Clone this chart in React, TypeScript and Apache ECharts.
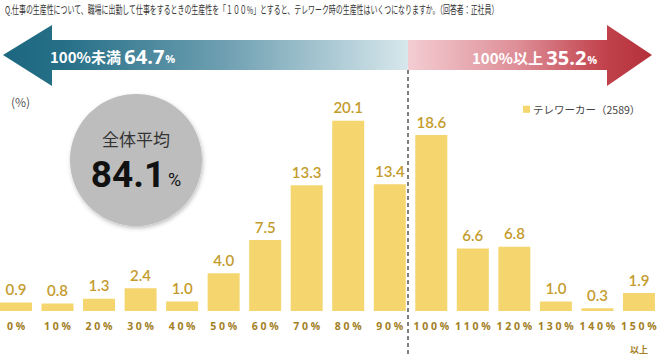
import React, { useEffect, useRef } from "react";
import * as echarts from "echarts";

const categories = ["0%", "10%", "20%", "30%", "40%", "50%", "60%", "70%", "80%", "90%", "100%", "110%", "120%", "130%", "140%", "150%以上"];
const values = [0.9, 0.8, 1.3, 2.4, 1.0, 4.0, 7.5, 13.3, 20.1, 13.4, 18.6, 6.6, 6.8, 1.0, 0.3, 1.9];
const seriesName = "テレワーカー（2589）";
const titleText = "Q.仕事の生産性について、職場に出勤して仕事をするときの生産性を「１００%」とすると、テレワーク時の生産性はいくつになりますか。（回答者：正社員）";
const belowLabel = "100%未満";
const belowValue = "64.7";
const aboveLabel = "100%以上";
const aboveValue = "35.2";
const averageLabel = "全体平均";
const averageValue = "84.1";

const spaced = (s: string) => s.split("").join(" ");

export default function App() {
  const ref = useRef<HTMLDivElement>(null);
  useEffect(() => {
    if (!ref.current) return;
    const chart = echarts.init(ref.current, undefined, { renderer: "svg" });
    const jp = '"Noto Sans CJK JP", "Noto Sans", sans-serif';
    chart.setOption({
      animation: false,
      backgroundColor: "#ffffff",
      grid: { left: -4.77, right: 6.3, top: 74.5, bottom: 43, containLabel: false, outerBoundsMode: "none" },
      legend: {
        data: [seriesName],
        left: 518,
        top: 99,
        icon: "rect",
        itemWidth: 7,
        itemHeight: 7,
        itemGap: 3,
        textStyle: { fontSize: 10.5, color: "#444", fontFamily: jp, padding: [0, 0, 0, -2] },
      },
      xAxis: {
        type: "category",
        data: categories,
        axisLine: { show: false },
        axisTick: { show: false },
        axisLabel: {
          interval: 0,
          margin: 7,
          color: "#A3801F",
          fontWeight: "bold",
          fontSize: 10.5,
          lineHeight: 16,
          fontFamily: '"Open Sans", sans-serif',
          formatter: (v: string) => {
            if (v.endsWith("以上")) {
              return spaced(v.replace("以上", "")) + "\n{s|以上}";
            }
            return spaced(v);
          },
          rich: {
            s: { fontSize: 9, lineHeight: 30, color: "#A3801F", fontWeight: "bold", fontFamily: jp },
          },
        },
      },
      yAxis: { type: "value", min: 0, max: 25, show: false, splitLine: { show: false } },
      series: [
        {
          name: seriesName,
          type: "bar",
          data: values,
          barWidth: 32,
          itemStyle: { color: "#F5D66E" },
          label: {
            show: true,
            position: "top",
            distance: 6,
            fontSize: 15,
            fontWeight: 600,
            color: "#C49C2E",
            fontFamily: 'Lato, "Open Sans", sans-serif',
            formatter: (p: any) => Number(p.value).toFixed(1),
          },
        },
      ],
      graphic: [
        {
          type: "text",
          x: 5,
          y: 4,
          scaleX: 0.63,
          style: { text: titleText, fontSize: 11, fill: "#333", fontFamily: jp },
        },
        {
          type: "polygon",
          shape: { points: [[3, 55], [52, 25], [52, 40], [408, 40], [408, 70], [52, 70], [52, 86]] },
          style: {
            fill: new echarts.graphic.LinearGradient(0, 0, 1, 0, [
              { offset: 0, color: "#1C6880" },
              { offset: 0.15, color: "#266F87" },
              { offset: 0.55, color: "#6FA0B2" },
              { offset: 1, color: "#D7E7EC" },
            ]),
          },
        },
        {
          type: "polygon",
          shape: { points: [[408, 40], [607, 40], [607, 25], [652, 55], [607, 86], [607, 70], [408, 70]] },
          style: {
            fill: new echarts.graphic.LinearGradient(0, 0, 1, 0, [
              { offset: 0, color: "#F3CDD2" },
              { offset: 0.45, color: "#DE8E97" },
              { offset: 0.8, color: "#C2434D" },
              { offset: 1, color: "#B3303A" },
            ]),
          },
        },
        {
          type: "text",
          x: 50,
          y: 56,
          style: {
            text: `{a|${belowLabel}} {b|${belowValue}}{c|%}`,
            verticalAlign: "middle",
            rich: {
              a: { fontSize: 15, fontWeight: "bold", fill: "#fff", fontFamily: jp },
              b: { fontSize: 20, fontWeight: "bold", fill: "#fff", fontFamily: '"Open Sans", sans-serif' },
              c: { fontSize: 11, fontWeight: "bold", fill: "#fff", fontFamily: '"Open Sans", sans-serif', padding: [5, 0, 0, 1] },
            },
          },
        },
        {
          type: "text",
          x: 472,
          y: 57,
          style: {
            text: `{a|${aboveLabel}} {b|${aboveValue}}{c|%}`,
            verticalAlign: "middle",
            rich: {
              a: { fontSize: 15, fontWeight: "bold", fill: "#fff", fontFamily: jp },
              b: { fontSize: 20, fontWeight: "bold", fill: "#fff", fontFamily: '"Open Sans", sans-serif' },
              c: { fontSize: 11, fontWeight: "bold", fill: "#fff", fontFamily: '"Open Sans", sans-serif', padding: [5, 0, 0, 1] },
            },
          },
        },
        {
          type: "line",
          shape: { x1: 408, y1: 70, x2: 408, y2: 354 },
          style: { stroke: "#555", lineWidth: 1.5, lineDash: [4, 3] },
        },
        {
          type: "text",
          x: 11,
          y: 101,
          style: { text: "(%)", fontSize: 12, fill: "#555", verticalAlign: "middle", fontFamily: jp },
        },
        {
          type: "circle",
          shape: { cx: 136, cy: 160, r: 66 },
          style: { fill: "#BDBDBD", shadowBlur: 4, shadowColor: "rgba(0,0,0,0.25)", shadowOffsetX: 1, shadowOffsetY: 2 },
        },
        {
          type: "text",
          x: 136,
          y: 138,
          style: { text: averageLabel, fontSize: 17, fill: "#333", align: "center", verticalAlign: "middle", fontFamily: jp },
        },
        {
          type: "text",
          x: 136,
          y: 174,
          style: {
            text: `{n|${averageValue}}{p|%}`,
            align: "center",
            verticalAlign: "middle",
            rich: {
              n: { fontSize: 37, fontWeight: "bold", fill: "#111", fontFamily: "Roboto, sans-serif" },
              p: { fontSize: 18, fill: "#111", fontFamily: "Roboto, sans-serif", padding: [10, 0, 0, 3] },
            },
          },
        },
      ],
    });
    return () => chart.dispose();
  }, []);
  return <div ref={ref} style={{ position: "absolute", left: 0, top: 0, width: 666, height: 354 }} />;
}
